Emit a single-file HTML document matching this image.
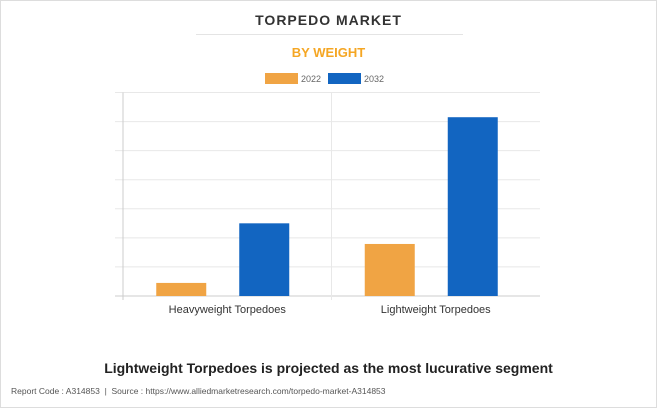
<!DOCTYPE html>
<html><head><meta charset="utf-8"><style>
body{margin:0;background:#fff;}
#wrap{position:relative;width:655px;height:406px;border:1px solid #ddd;background:#fff;font-family:"Liberation Sans",sans-serif;overflow:hidden;}
.t{position:absolute;white-space:nowrap;}
</style></head><body>
<div id="wrap">
<div class="t" style="left:0;width:655px;text-align:center;top:11px;font-size:14px;font-weight:bold;color:#333;letter-spacing:1px">TORPEDO MARKET</div>
<div style="position:absolute;left:195px;width:267px;top:33px;height:1px;background:#e4e4e4"></div>
<div class="t" style="left:0;width:655px;text-align:center;top:44px;font-size:13px;font-weight:bold;color:#f5a623">BY WEIGHT</div>
<svg width="657" height="330" style="position:absolute;left:0;top:0" id="chart">
<g id="legend">
<rect x="264" y="72" width="33" height="11" fill="#f0a444"/>
<text x="300" y="81" font-size="9" fill="#666" font-family="Liberation Sans">2022</text>
<rect x="327" y="72" width="33" height="11" fill="#1265c1"/>
<text x="363" y="81" font-size="9" fill="#666" font-family="Liberation Sans">2032</text>
</g>
<g id="grid"></g><g id="bars"></g><g id="labels"></g>
</svg>
<div class="t" style="left:0;width:655px;text-align:center;top:359px;font-size:14px;font-weight:bold;color:#222">Lightweight Torpedoes is projected as the most lucurative segment</div>
<div class="t" style="left:10px;top:385px;font-size:8.5px;color:#555">Report Code : A314853 &nbsp;|&nbsp; Source : https://www.alliedmarketresearch.com/torpedo-market-A314853</div>
</div>
<script>
const categories=["Heavyweight Torpedoes","Lightweight Torpedoes"];
const values2022=[0.45,1.79];
const values2032=[2.5,6.15];
const yMax=7;
const ns="http://www.w3.org/2000/svg";
const L=122,R=539,T=91.5,B=295;
const y=v=>B-(v/yMax)*(B-T);
const bw=(R-L)/categories.length;
const grid=document.getElementById('grid'),bars=document.getElementById('bars'),labels=document.getElementById('labels');
function mk(tag,attrs,parent){const e=document.createElementNS(ns,tag);for(const k in attrs)e.setAttribute(k,attrs[k]);parent.appendChild(e);return e;}
for(let i=0;i<=yMax;i++){
 const l=mk('line',{x1:114,x2:R,y1:y(i),y2:y(i),stroke:i==0?'#ccc':'#e8e8e8','stroke-width':1},grid);
 
 
}
const ax=mk('line',{x1:L,x2:L,y1:T,y2:B+4,stroke:'#ccc'},grid);


for(let i=1;i<categories.length;i++){
 const d=mk('line',{x1:L+bw*i,x2:L+bw*i,y1:T,y2:B+4,stroke:'#e8e8e8'},grid);
 
 
}
categories.forEach((c,i)=>{
 const cx=L+bw*i+bw/2;
 const b1=mk('rect',{x:cx-71,y:y(values2022[i]),width:50,height:B-y(values2022[i]),fill:'#f0a444'},bars);
 
 
 const b2=mk('rect',{x:cx+12,y:y(values2032[i]),width:50,height:B-y(values2032[i]),fill:'#1265c1'},bars);
 
 
 const t=mk('text',{x:cx,y:B+17,'text-anchor':'middle','font-size':11,fill:'#333','font-family':'Liberation Sans'},labels);
 t.textContent=c;
 
 
});
</script>
</body></html>
